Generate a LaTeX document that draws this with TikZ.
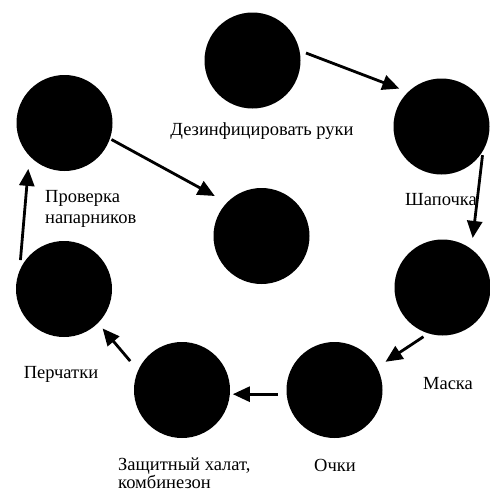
\documentclass[tikz,border=0pt]{standalone}
\usepackage{fontspec}
\setmainfont{Liberation Serif}
\usetikzlibrary{arrows.meta}

\begin{document}
\begin{tikzpicture}[x=1pt,y=-1pt,
    dot/.style={circle,fill=black,minimum size=96pt,inner sep=0pt,outer sep=0pt},
    lbl/.style={font=\fontsize{18.5}{21}\selectfont,inner sep=0pt,align=left},
    arr/.style={-{Triangle[length=17pt,width=15pt]},line width=2.8pt}]
    \clip (0,0) rectangle (490,493);
    \useasboundingbox (0,0) rectangle (490,493);
    \node [dot] (ruki)  at (252.5,60.5) {};
    \node [dot] (shap)  at (441.5,126.5) {};
    \node [dot] (mask)  at (442.5,287.5) {};
    \node [dot] (ochki) at (334.5,390) {};
    \node [dot] (halat) at (182,390) {};
    \node [dot] (perch) at (64,289) {};
    \node [dot] (prov)  at (64.5,123) {};
    \node [dot] (mid)   at (261.5,236) {};
    \node [lbl,anchor=base] (lruki) at (262,135) {Дезинфицировать руки};
    \node [lbl,anchor=base] (lshap) at (441,205) {Шапочка};
    \node [lbl,anchor=base] (lmask) at (448,389) {Маска};
    \node [lbl,anchor=base] (lochki) at (335,471.5) {Очки};
    \node [lbl,anchor=base west] (lhalat) at (118,488.5) {Защитный халат,\\[-2.5pt]комбинезон};
    \node [lbl,anchor=base] (lperch) at (61,378) {Перчатки};
    \node [lbl,anchor=base west] (lprov) at (45,223.5) {Проверка\\напарников};
    \draw [arr,shorten <=7pt,shorten >=9.5pt] (ruki.12) -- (shap.134);
    \draw [arr,shorten <=4.7pt,shorten >=11.3pt] (shap.-30) -- (mask.53);
    \draw [arr,shorten <=6pt,shorten >=10.3pt] (mask.253) -- (ochki.28);
    \draw [arr,shorten <=8.7pt,shorten >=3pt] (ochki.185) -- (halat.-5);
    \draw [arr,shorten <=12.3pt,shorten >=7.2pt] (halat.156) -- (perch.-45);
    \draw [arr,shorten <=11pt,shorten >=13.2pt] (perch.158) -- (prov.223);
    \draw [arr,shorten <=1.8pt,shorten >=13.9pt] (prov.-19) -- (mid.136);
\end{tikzpicture}
\end{document}
